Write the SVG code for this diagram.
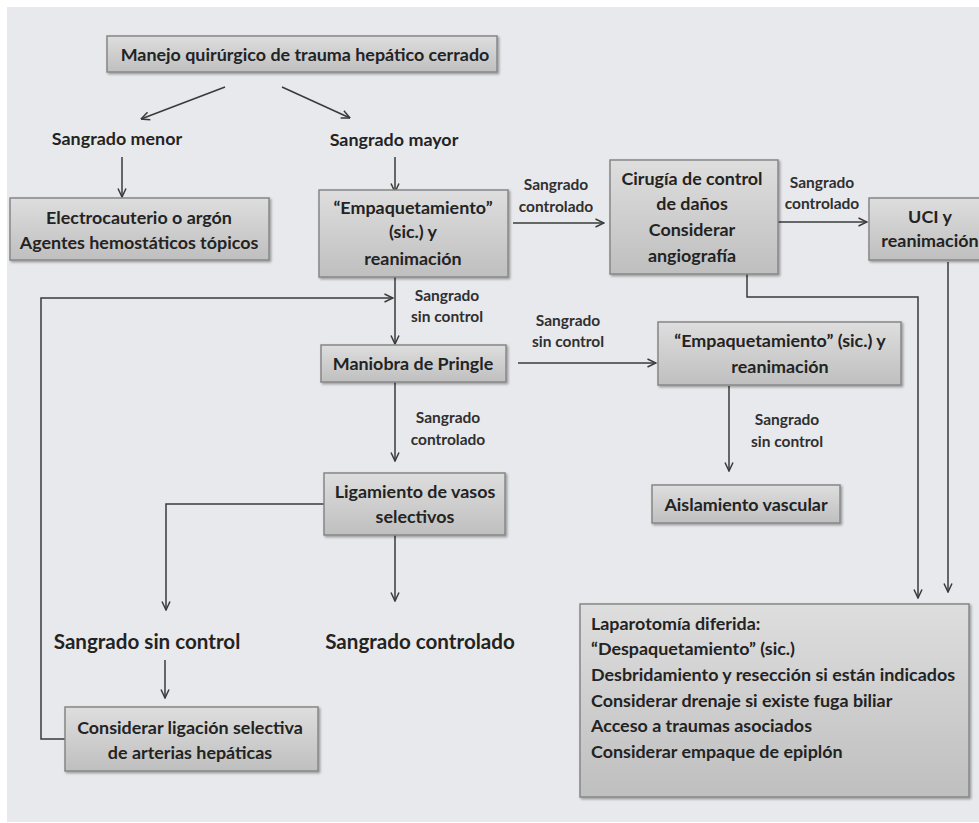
<svg xmlns="http://www.w3.org/2000/svg" width="979" height="823" viewBox="0 0 979 823">
<defs>
<linearGradient id="boxGrad" x1="0" y1="0" x2="0" y2="1">
<stop offset="0" stop-color="#dedede"/>
<stop offset="1" stop-color="#bfbfbf"/>
</linearGradient>
<filter id="sh" x="-5%" y="-5%" width="115%" height="125%">
<feDropShadow dx="1.5" dy="1.5" stdDeviation="1" flood-color="#000" flood-opacity="0.35"/>
</filter>
<marker id="arr" viewBox="0 0 10 10" refX="9.5" refY="5" markerWidth="10" markerHeight="10" markerUnits="userSpaceOnUse" orient="auto">
<path d="M1,1 L9.5,5 L1,9" fill="none" stroke="#3a3a3a" stroke-width="1.5"/>
</marker>
</defs>
<style>
.box{fill:url(#boxGrad);stroke:#878787;stroke-width:1.5;filter:url(#sh)}
.t{font-family:Lato,"Liberation Sans",sans-serif;font-weight:700;font-size:17.9px;fill:#232323;text-anchor:middle}
.s{font-family:Lato,"Liberation Sans",sans-serif;font-weight:700;font-size:15.5px;fill:#303030;text-anchor:middle}
.l{font-family:Lato,"Liberation Sans",sans-serif;font-weight:700;font-size:20.6px;fill:#232323;text-anchor:middle}
.lf{text-anchor:start}
.c{fill:none;stroke:#3a3a3a;stroke-width:1.5}
</style>
<rect x="0" y="0" width="979" height="823" fill="#ffffff"/>
<rect x="7" y="7" width="972" height="815" fill="#e8e9ec"/>

<g id="connectors">
<path class="c" d="M225,87 L141,119" marker-end="url(#arr)"/>
<path class="c" d="M282,87 L350,118" marker-end="url(#arr)"/>
<path class="c" d="M122,157 L122,197" marker-end="url(#arr)"/>
<path class="c" d="M395,157 L395,192" marker-end="url(#arr)"/>
<path class="c" d="M513,223 L604,223" marker-end="url(#arr)"/>
<path class="c" d="M778,222 L867,222" marker-end="url(#arr)"/>
<path class="c" d="M747,274 L747,297 L918,297 L918,598" marker-end="url(#arr)"/>
<path class="c" d="M948,262 L948,592" marker-end="url(#arr)"/>
<path class="c" d="M65,739 L41,739 L41,298 L393,298" marker-end="url(#arr)"/>
<path class="c" d="M395,277 L395,344" marker-end="url(#arr)"/>
<path class="c" d="M518,363 L656,363" marker-end="url(#arr)"/>
<path class="c" d="M729,386 L729,471" marker-end="url(#arr)"/>
<path class="c" d="M395,382 L395,461" marker-end="url(#arr)"/>
<path class="c" d="M324,504 L166,504 L166,610" marker-end="url(#arr)"/>
<path class="c" d="M395,535 L395,601" marker-end="url(#arr)"/>
<path class="c" d="M165,660 L165,698" marker-end="url(#arr)"/>
</g>

<g id="labels">
<text class="s" x="556" y="190">Sangrado</text>
<text class="s" x="556" y="212">controlado</text>
<text class="s" x="822" y="188">Sangrado</text>
<text class="s" x="822" y="209">controlado</text>
<text class="s" x="447" y="301">Sangrado</text>
<text class="s" x="447" y="322">sin control</text>
<text class="s" x="568" y="326">Sangrado</text>
<text class="s" x="568" y="347">sin control</text>
<text class="s" x="448" y="423">Sangrado</text>
<text class="s" x="448" y="445">controlado</text>
<text class="s" x="787" y="425">Sangrado</text>
<text class="s" x="787" y="447">sin control</text>
</g>

<g id="n-title"><rect class="box" x="107" y="36" width="390" height="36"/><text class="t" x="305" y="61">Manejo quirúrgico de trauma hepático cerrado</text></g>
<g id="n-menor"><text class="t" x="117" y="145">Sangrado menor</text></g>
<g id="n-mayor"><text class="t" x="394" y="146">Sangrado mayor</text></g>
<g id="n-electro"><rect class="box" x="10" y="198" width="259" height="62"/><text class="t" x="139" y="224">Electrocauterio o argón</text><text class="t" x="139" y="249">Agentes hemostáticos tópicos</text></g>
<g id="n-empaq1"><rect class="box" x="319" y="190" width="189" height="87"/><text class="t" x="413" y="214">“Empaquetamiento”</text><text class="t" x="413" y="238">(sic.) y</text><text class="t" x="413" y="265">reanimación</text></g>
<g id="n-cirugia"><rect class="box" x="610" y="160" width="168" height="114"/><text class="t" x="692" y="185">Cirugía de control</text><text class="t" x="692" y="210">de daños</text><text class="t" x="692" y="236">Considerar</text><text class="t" x="692" y="262">angiografía</text></g>
<g id="n-uci"><rect class="box" x="869" y="198" width="130" height="62"/><text class="t" x="930" y="223">UCI y</text><text class="t" x="930" y="247">reanimación</text></g>
<g id="n-pringle"><rect class="box" x="321" y="345" width="185" height="37"/><text class="t" x="413" y="370">Maniobra de Pringle</text></g>
<g id="n-empaq2"><rect class="box" x="658" y="322" width="243" height="63"/><text class="t" x="780" y="347">“Empaquetamiento” (sic.) y</text><text class="t" x="780" y="373">reanimación</text></g>
<g id="n-aislamiento"><rect class="box" x="652" y="485" width="188" height="38"/><text class="t" x="746" y="511">Aislamiento vascular</text></g>
<g id="n-ligamiento"><rect class="box" x="324" y="473" width="181" height="62"/><text class="t" x="415" y="498">Ligamiento de vasos</text><text class="t" x="415" y="523">selectivos</text></g>
<g id="n-sincontrol"><text class="l" x="147" y="649">Sangrado sin control</text></g>
<g id="n-controlado"><text class="l" x="420" y="649">Sangrado controlado</text></g>
<g id="n-ligacion"><rect class="box" x="65" y="707" width="253" height="64"/><text class="t" x="190" y="734">Considerar ligación selectiva</text><text class="t" x="190" y="759">de arterias hepáticas</text></g>
<g id="n-laparotomia"><rect class="box" x="580" y="604" width="389" height="193"/>
<text class="t lf" x="591" y="630">Laparotomía diferida:</text>
<text class="t lf" x="591" y="655">“Despaquetamiento” (sic.)</text>
<text class="t lf" x="591" y="681">Desbridamiento y resección si están indicados</text>
<text class="t lf" x="591" y="707">Considerar drenaje si existe fuga biliar</text>
<text class="t lf" x="591" y="732">Acceso a traumas asociados</text>
<text class="t lf" x="591" y="758">Considerar empaque de epiplón</text>
</g>
</svg>
